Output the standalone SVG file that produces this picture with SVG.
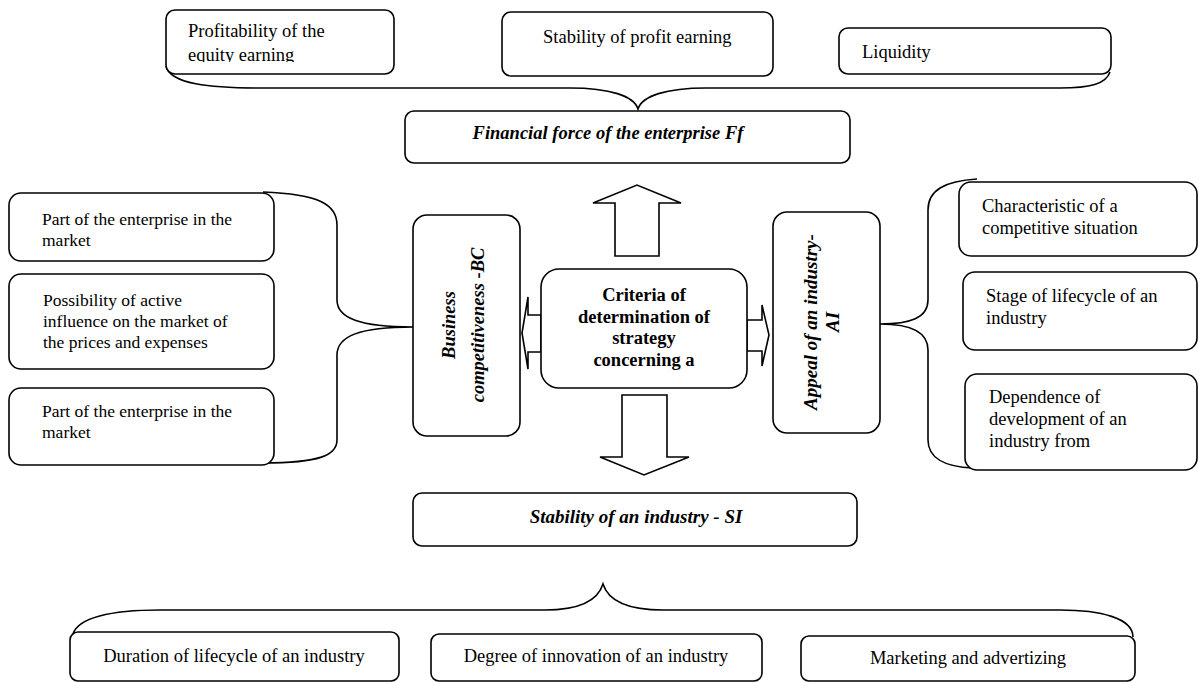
<svg xmlns="http://www.w3.org/2000/svg" width="1199" height="682" viewBox="0 0 1199 682">
<style>
.box{fill:#fff;stroke:#000;stroke-width:1.6}
.ln{fill:none;stroke:#000;stroke-width:1.6}
.arr{fill:#fff;stroke:#000;stroke-width:1.6;stroke-linejoin:miter}
.t{font-family:"Liberation Serif","Times New Roman",serif;font-size:18.5px;fill:#000}
.l{font-size:17.5px}
.b{font-weight:bold}
.bi{font-weight:bold;font-style:italic}
.m{text-anchor:middle}
</style>
<defs>
<clipPath id="clip1"><rect x="166" y="10" width="228" height="52"/></clipPath>
</defs>
<rect width="1199" height="682" fill="#fff"/>
<g id="connectors">
<path class="ln" d="M166,66 C170,84 210,88 260,88 L570,88 C610,88 634,96 638,109 C642,96 666,88 706,88 L1060,88 C1090,88 1106,84 1110,72"/>
<path class="ln" d="M263,192 C320,194 337,205 337,225 L337,300 C337,318 360,327 413,327 C360,327 337,336 337,355 L337,440 C337,455 320,463 263,463"/>
<path class="ln" d="M977,179 C945,181 928,190 928,210 L928,300 C928,318 910,324 880,324 C910,324 928,332 928,350 L928,440 C928,458 945,467 973,468"/>
<path class="ln" d="M73,634 C78,618 110,610 160,610 L545,610 C580,610 598,600 603,584 C608,600 626,610 663,610 L1060,610 C1100,610 1133,618 1133,637"/>
<polygon class="arr" points="615,256 615,203 593,203 637,185 681,203 659,203 659,256"/>
<polygon class="arr" points="622,395 667,395 667,457 689,457 644,475 600,457 622,457"/>
<polygon class="arr" points="541,315 528,315 528,297 522,333 528,369 528,352 541,352"/>
<polygon class="arr" points="747,320 762,320 762,305 769,335 762,366 762,351 747,351"/>
</g>
<g id="n-profitability">
<rect class="box" x="166" y="10" width="228" height="64" rx="9"/>
<g clip-path="url(#clip1)">
<text class="t" x="188" y="37">Profitability of the</text>
<text class="t" x="188" y="61">equity earning</text>
</g>
</g>
<g id="n-stability-profit">
<rect class="box" x="502" y="12" width="271" height="64" rx="9"/>
<text class="t" x="543" y="43">Stability of profit earning</text>
</g>
<g id="n-liquidity">
<rect class="box" x="839" y="28" width="272" height="46" rx="9"/>
<text class="t" x="862" y="58">Liquidity</text>
</g>
<g id="n-financial">
<rect class="box" x="405" y="111" width="445" height="52" rx="9"/>
<text class="t bi m" x="608" y="139">Financial force of the enterprise Ff</text>
</g>
<g id="n-criteria">
<rect class="box" x="541" y="269" width="206" height="119" rx="18"/>
<text class="t b m" x="644" y="301">Criteria of</text>
<text class="t b m" x="644" y="323">determination of</text>
<text class="t b m" x="644" y="344">strategy</text>
<text class="t b m" x="644" y="366">concerning a</text>
</g>
<g id="n-bc">
<rect class="box" x="413" y="215" width="107" height="221" rx="14"/>
<text class="t bi m" transform="translate(455,325) rotate(-90)">Business</text>
<text class="t bi m" transform="translate(484,325) rotate(-90)">competitiveness -BC</text>
</g>
<g id="n-ai">
<rect class="box" x="773" y="212" width="107" height="221" rx="14"/>
<text class="t bi m" transform="translate(817,322) rotate(-90)" style="font-size:19px">Appeal of an industry-</text>
<text class="t bi m" transform="translate(839,322) rotate(-90)" style="font-size:19px">AI</text>
</g>
<g id="n-part1">
<rect class="box" x="9" y="193" width="265" height="68" rx="12"/>
<text class="t l" x="42" y="225">Part of the enterprise in the</text>
<text class="t l" x="42" y="246">market</text>
</g>
<g id="n-possibility">
<rect class="box" x="9" y="274" width="265" height="95" rx="12"/>
<text class="t l" x="43" y="306">Possibility of active</text>
<text class="t l" x="43" y="327">influence on the market of</text>
<text class="t l" x="43" y="348">the prices and expenses</text>
</g>
<g id="n-part2">
<rect class="box" x="9" y="388" width="265" height="77" rx="12"/>
<text class="t l" x="42" y="417">Part of the enterprise in the</text>
<text class="t l" x="42" y="438">market</text>
</g>
<g id="n-characteristic">
<rect class="box" x="959" y="182" width="238" height="74" rx="12"/>
<text class="t" x="982" y="212">Characteristic of a</text>
<text class="t" x="982" y="234">competitive situation</text>
</g>
<g id="n-stage">
<rect class="box" x="963" y="272" width="234" height="78" rx="12"/>
<text class="t" x="986" y="302">Stage of lifecycle of an</text>
<text class="t" x="986" y="324">industry</text>
</g>
<g id="n-dependence">
<rect class="box" x="965" y="374" width="232" height="96" rx="12"/>
<text class="t" x="989" y="403">Dependence of</text>
<text class="t" x="989" y="425">development of an</text>
<text class="t" x="989" y="447">industry from</text>
</g>
<g id="n-si">
<rect class="box" x="413" y="493" width="444" height="53" rx="9"/>
<text class="t bi m" x="636" y="523" style="font-size:19px">Stability of an industry - SI</text>
</g>
<g id="n-duration">
<rect class="box" x="70" y="632" width="329" height="49" rx="8"/>
<text class="t m" x="234" y="662">Duration of lifecycle of an industry</text>
</g>
<g id="n-degree">
<rect class="box" x="431" y="634" width="331" height="47" rx="8"/>
<text class="t m" x="596" y="662">Degree of innovation of an industry</text>
</g>
<g id="n-marketing">
<rect class="box" x="801" y="636" width="334" height="45" rx="8"/>
<text class="t m" x="968" y="664">Marketing and advertizing</text>
</g>
</svg>
